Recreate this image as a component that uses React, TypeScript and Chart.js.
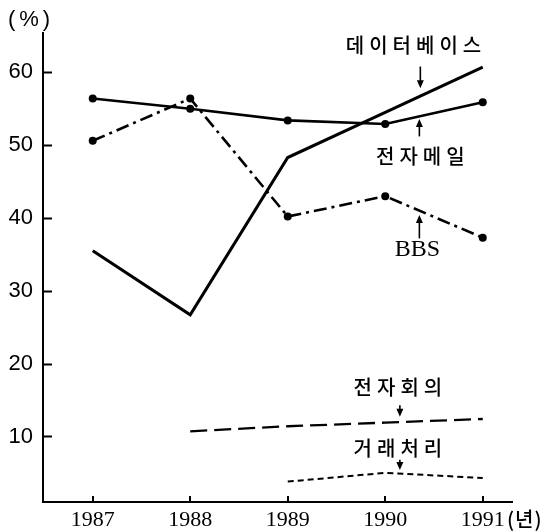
import React, { useEffect, useRef } from "react";
import { Chart, registerables } from "chart.js";

Chart.register(...registerables);

// ---- data ----
const years = [1987, 1988, 1989, 1990, 1991];
const yTickValues = [10, 20, 30, 40, 50, 60];
const database = [35.5, 26.7, 48.3, 54.5, 60.7];
const email = [56.4, 55.0, 53.4, 52.9, 55.9];
const bbs = [50.6, 56.4, 40.2, 43.0, 37.3];
const conference: (number | null)[] = [null, 10.7, 11.4, 11.9, 12.4];
const transaction: (number | null)[] = [null, null, 3.8, 5.0, 4.3];

// label annotations (in data units)
const annotations = [
  { text: "데이터베이스", x: 1990.29, y: 63.75, ax: 1990.36, from: 60.8, to: 57.8, serif: false },
  { text: "전자메일", x: 1990.36, y: 48.4, ax: 1990.35, from: 51.2, to: 53.6, serif: false },
  { text: "BBS", x: 1990.33, y: 35.6, ax: 1990.35, from: 37.2, to: 40.4, serif: true },
  { text: "전자회의", x: 1990.13, y: 16.8, ax: 1990.15, from: 14.3, to: 12.7, serif: false },
  { text: "거래처리", x: 1990.13, y: 8.4, ax: 1990.15, from: 6.8, to: 5.4, serif: false },
];

const pts = (arr: (number | null)[]) =>
  years
    .map((x, i) => ({ x, y: arr[i] }))
    .filter((p) => p.y !== null) as { x: number; y: number }[];

const decorPlugin = {
  id: "decor",
  afterDraw(chart: any) {
    const ctx = chart.ctx as CanvasRenderingContext2D;
    const xs = chart.scales.x;
    const ys = chart.scales.y;
    const area = chart.chartArea;
    ctx.save();
    ctx.strokeStyle = "#000";
    ctx.fillStyle = "#000";
    // y tick marks (inward)
    ctx.lineWidth = 2;
    yTickValues.forEach((v) => {
      const py = Math.round(ys.getPixelForValue(v)) + 0.5;
      ctx.beginPath();
      ctx.moveTo(area.left, py);
      ctx.lineTo(area.left + 9, py);
      ctx.stroke();
    });
    // x tick marks (upward)
    years.forEach((v) => {
      const px = Math.round(xs.getPixelForValue(v));
      ctx.beginPath();
      ctx.moveTo(px, area.bottom);
      ctx.lineTo(px, area.bottom - 6);
      ctx.stroke();
    });
    // annotations
    ctx.textAlign = "center";
    ctx.textBaseline = "middle";
    annotations.forEach((a) => {
      const tx = xs.getPixelForValue(a.x);
      const ty = ys.getPixelForValue(a.y);
      if (a.serif) {
        (ctx as any).letterSpacing = "0px";
        ctx.font = "24px 'Liberation Serif'";
        ctx.fillText(a.text, tx, ty);
      } else {
        (ctx as any).letterSpacing = "5px";
        ctx.font = "500 20px 'Noto Sans CJK KR'";
        ctx.fillText(a.text, tx + 2.5, ty);
      }
      const axp = xs.getPixelForValue(a.ax);
      const y1 = ys.getPixelForValue(a.from);
      const y2 = ys.getPixelForValue(a.to);
      const dir = y2 > y1 ? 1 : -1;
      ctx.lineWidth = 1.6;
      ctx.beginPath();
      ctx.moveTo(axp, y1);
      ctx.lineTo(axp, y2 - dir * 5);
      ctx.stroke();
      ctx.beginPath();
      ctx.moveTo(axp, y2);
      ctx.lineTo(axp - 3.5, y2 - dir * 8);
      ctx.lineTo(axp + 3.5, y2 - dir * 8);
      ctx.closePath();
      ctx.fill();
    });
    // axis units
    (ctx as any).letterSpacing = "4px";
    ctx.font = "22px 'Liberation Sans'";
    ctx.textAlign = "center";
    ctx.fillText("(%)", 31, 20);
    (ctx as any).letterSpacing = "1px";
    ctx.font = "500 20px 'Noto Sans CJK KR'";
    ctx.textAlign = "left";
    ctx.fillText("(년)", 507, 519);
    ctx.restore();
  },
};

export default function App() {
  const ref = useRef<HTMLCanvasElement>(null);
  useEffect(() => {
    document.body.style.margin = "0";
    const canvas = ref.current!;
    const line = (data: any, extra: any) => ({
      data,
      borderColor: "#000",
      backgroundColor: "#000",
      pointBackgroundColor: "#000",
      pointBorderColor: "#000",
      pointBorderWidth: 0,
      fill: false,
      tension: 0,
      ...extra,
    });
    const chart = new Chart(canvas, {
      type: "line",
      data: {
        datasets: [
          line(pts(database), { label: "데이터베이스", borderWidth: 3, pointRadius: 0 }),
          line(pts(email), { label: "전자메일", borderWidth: 2.6, pointRadius: 4 }),
          line(pts(bbs), { label: "BBS", borderWidth: 2.6, pointRadius: 4, borderDash: [13, 5, 3, 5] }),
          line(pts(conference), { label: "전자회의", borderWidth: 2.3, pointRadius: 0, borderDash: [17, 7] }),
          line(pts(transaction), { label: "거래처리", borderWidth: 2, pointRadius: 0, borderDash: [6, 4] }),
        ],
      },
      options: {
        responsive: false,
        animation: false,
        events: [],
        layout: { padding: { left: 0, top: 33, right: 35, bottom: 0 } },
        plugins: { legend: { display: false }, tooltip: { enabled: false } },
        scales: {
          x: {
            type: "linear",
            min: 1986.49,
            max: 1991.3,
            afterBuildTicks: (s: any) => {
              s.ticks = years.map((v) => ({ value: v }));
            },
            afterFit: (s: any) => {
              s.height = 30;
            },
            grid: { display: false, drawTicks: false },
            border: { display: true, color: "#000", width: 2 },
            ticks: {
              color: "#000",
              font: { family: "'Liberation Serif'", size: 22 },
              padding: 5,
              autoSkip: false,
              maxRotation: 0,
              callback: (v: any) => String(v),
            },
          },
          y: {
            type: "linear",
            min: 1,
            max: 65.4,
            afterBuildTicks: (s: any) => {
              s.ticks = yTickValues.map((v) => ({ value: v }));
            },
            afterFit: (s: any) => {
              s.width = 43;
            },
            grid: { display: false, drawTicks: false },
            border: { display: true, color: "#000", width: 2 },
            ticks: {
              color: "#000",
              font: { family: "'Liberation Sans'", size: 22 },
              padding: 10,
              callback: (v: any) => String(v),
            },
          },
        },
      },
      plugins: [decorPlugin],
    } as any);
    return () => chart.destroy();
  }, []);
  return (
    <canvas
      ref={ref}
      width={547}
      height={532}
      style={{ display: "block", width: 547, height: 532 }}
    />
  );
}
